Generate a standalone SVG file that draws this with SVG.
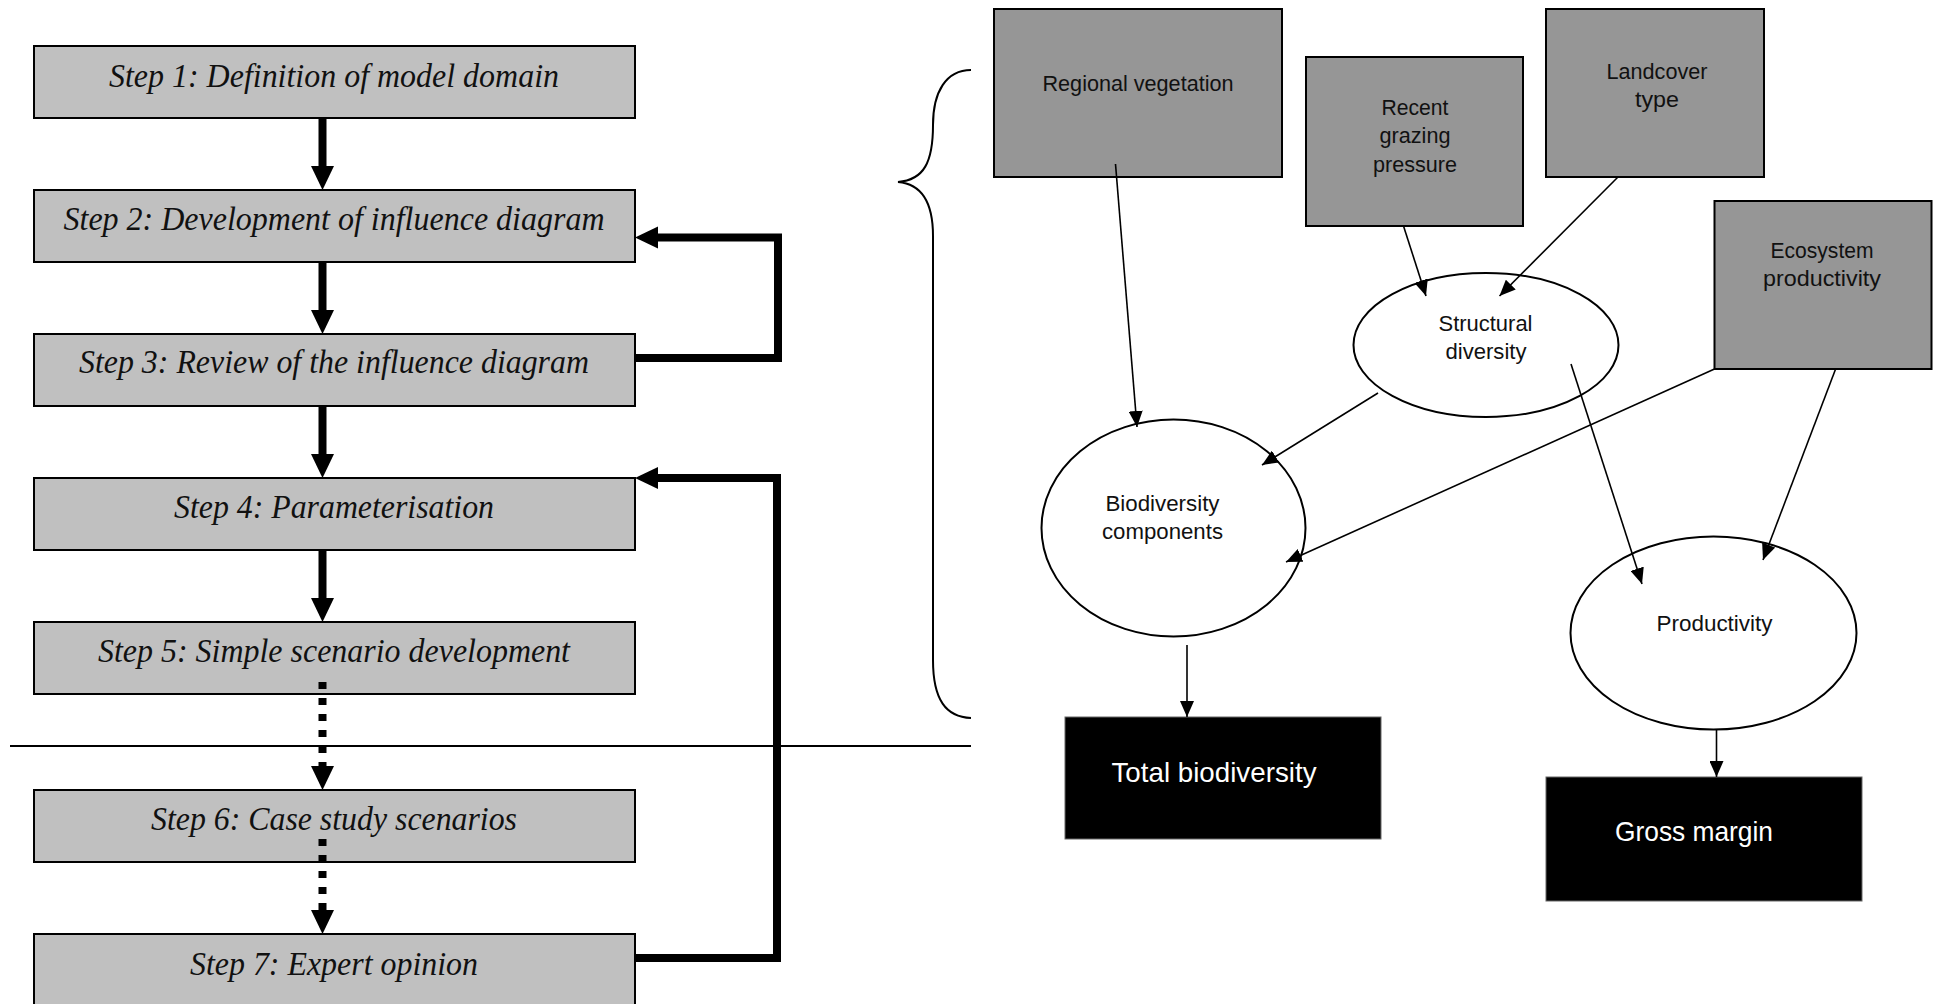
<svg xmlns="http://www.w3.org/2000/svg" width="1934" height="1004" viewBox="0 0 1934 1004">
<defs>
<style>
.step{fill:#c0c0c0;stroke:#000;stroke-width:2}
.st{font-family:"Liberation Serif",serif;font-style:italic;font-size:34px;fill:#111;text-anchor:middle}
.in{fill:#969696;stroke:#000;stroke-width:2}
.el{fill:#fff;stroke:#000;stroke-width:2}
.out{fill:#000;stroke:#666;stroke-width:1}
.lb{font-family:"Liberation Sans",Arial,sans-serif;font-size:21.5px;fill:#111;text-anchor:middle}
.ob{font-family:"Liberation Sans",Arial,sans-serif;font-size:28px;fill:#fff;text-anchor:middle}
.thick{stroke:#000;stroke-width:8;fill:none}
.dot{stroke:#000;stroke-width:8;fill:none;stroke-dasharray:7 9}
.thin{stroke:#000;stroke-width:1.6;fill:none;marker-end:url(#ah)}
</style>
<marker id="ah" markerUnits="userSpaceOnUse" markerWidth="16" markerHeight="14" refX="16" refY="7" orient="auto">
<path d="M0,0 L16,7 L0,14 z" fill="#000"/>
</marker>
</defs>
<rect width="1934" height="1004" fill="#fff"/>

<g id="step1"><rect class="step" x="34" y="46" width="601" height="72"/><text class="st" x="334" y="87" textLength="450" lengthAdjust="spacingAndGlyphs">Step 1: Definition of model domain</text></g>
<g id="step2"><rect class="step" x="34" y="190" width="601" height="72"/><text class="st" x="334" y="230" textLength="541" lengthAdjust="spacingAndGlyphs">Step 2: Development of influence diagram</text></g>
<g id="step3"><rect class="step" x="34" y="334" width="601" height="72"/><text class="st" x="334" y="373" textLength="510" lengthAdjust="spacingAndGlyphs">Step 3: Review of the influence diagram</text></g>
<g id="step4"><rect class="step" x="34" y="478" width="601" height="72"/><text class="st" x="334" y="518" textLength="320" lengthAdjust="spacingAndGlyphs">Step 4: Parameterisation</text></g>
<g id="step5"><rect class="step" x="34" y="622" width="601" height="72"/><text class="st" x="334" y="662" textLength="472" lengthAdjust="spacingAndGlyphs">Step 5: Simple scenario development</text></g>
<g id="step6"><rect class="step" x="34" y="790" width="601" height="72"/><text class="st" x="334" y="830" textLength="366" lengthAdjust="spacingAndGlyphs">Step 6: Case study scenarios</text></g>
<g id="step7"><rect class="step" x="34" y="934" width="601" height="90"/><text class="st" x="334" y="975" textLength="288" lengthAdjust="spacingAndGlyphs">Step 7: Expert opinion</text></g>

<g id="divider"><line x1="10" y1="746" x2="971" y2="746" stroke="#000" stroke-width="2"/></g>
<g id="brace"><path d="M971 70 C946 70 933 92 933 125 C933 162 924 180 898 182 C922 184 933 202 933 236 L933 660 C933 700 946 717 971 718" fill="none" stroke="#000" stroke-width="2"/></g>

<g id="regional"><rect class="in" x="994" y="9" width="288" height="168"/><text class="lb" x="1138" y="91" textLength="191" lengthAdjust="spacingAndGlyphs">Regional vegetation</text></g>
<g id="grazing"><rect class="in" x="1306" y="57" width="217" height="169"/><text class="lb" x="1415" y="115" textLength="67" lengthAdjust="spacingAndGlyphs">Recent</text><text class="lb" x="1415" y="143" textLength="71" lengthAdjust="spacingAndGlyphs">grazing</text><text class="lb" x="1415" y="172" textLength="84" lengthAdjust="spacingAndGlyphs">pressure</text></g>
<g id="landcover"><rect class="in" x="1546" y="9" width="218" height="168"/><text class="lb" x="1657" y="79" textLength="101" lengthAdjust="spacingAndGlyphs">Landcover</text><text class="lb" x="1657" y="107" textLength="44" lengthAdjust="spacingAndGlyphs">type</text></g>
<g id="ecosystem"><rect class="in" x="1714.5" y="201" width="217" height="168"/><text class="lb" x="1822" y="258" textLength="103" lengthAdjust="spacingAndGlyphs">Ecosystem</text><text class="lb" x="1822" y="286" textLength="118" lengthAdjust="spacingAndGlyphs">productivity</text></g>
<g id="structural"><ellipse class="el" cx="1486" cy="345" rx="132.5" ry="72"/><text class="lb" x="1485.5" y="331" textLength="94" lengthAdjust="spacingAndGlyphs">Structural</text><text class="lb" x="1486" y="359" textLength="81" lengthAdjust="spacingAndGlyphs">diversity</text></g>
<g id="biodiversity"><ellipse class="el" cx="1173.5" cy="528" rx="132" ry="108.5"/><text class="lb" x="1162.5" y="511" textLength="114" lengthAdjust="spacingAndGlyphs">Biodiversity</text><text class="lb" x="1162.5" y="539" textLength="121" lengthAdjust="spacingAndGlyphs">components</text></g>
<g id="productivity"><ellipse class="el" cx="1713.5" cy="633" rx="143" ry="96.5"/><text class="lb" x="1714.5" y="631" textLength="116" lengthAdjust="spacingAndGlyphs">Productivity</text></g>
<g id="total"><rect class="out" x="1065" y="717" width="316" height="122"/><text class="ob" x="1214" y="782" textLength="205" lengthAdjust="spacingAndGlyphs">Total biodiversity</text></g>
<g id="gross"><rect class="out" x="1546" y="777" width="316" height="124"/><text class="ob" x="1694" y="841" textLength="158" lengthAdjust="spacingAndGlyphs">Gross margin</text></g>

<g id="connectors">
<line class="thick" x1="322.5" y1="118" x2="322.5" y2="167"/><polygon points="311,166 334,166 322.5,190"/>
<line class="thick" x1="322.5" y1="262" x2="322.5" y2="311"/><polygon points="311,310 334,310 322.5,334"/>
<line class="thick" x1="322.5" y1="406" x2="322.5" y2="455"/><polygon points="311,454 334,454 322.5,478"/>
<line class="thick" x1="322.5" y1="550" x2="322.5" y2="599"/><polygon points="311,598 334,598 322.5,622"/>
<line class="dot" x1="322.5" y1="682" x2="322.5" y2="766"/><polygon points="311,766 334,766 322.5,790"/>
<line class="dot" x1="322.5" y1="839" x2="322.5" y2="911"/><polygon points="311,910 334,910 322.5,934"/>
<path class="thick" d="M635 358 H778 V237.5 H657" stroke-linejoin="miter"/><polygon points="635,237.5 658,226.5 658,248.5"/>
<path class="thick" d="M635 958 H777 V478 H657" stroke-linejoin="miter"/><polygon points="635,478 658,467 658,489"/>
<line class="thin" x1="1115.5" y1="164" x2="1137" y2="427"/>
<line class="thin" x1="1403.5" y1="226" x2="1426" y2="296"/>
<line class="thin" x1="1618" y1="177" x2="1499.5" y2="296"/>
<line class="thin" x1="1378" y1="393" x2="1262" y2="465"/>
<line class="thin" x1="1714.5" y1="369" x2="1286" y2="562"/>
<line class="thin" x1="1571" y1="364" x2="1642" y2="584"/>
<line class="thin" x1="1835.6" y1="369" x2="1763" y2="560"/>
<line class="thin" x1="1187" y1="645" x2="1187" y2="717"/>
<line class="thin" x1="1716.5" y1="730" x2="1716.5" y2="777"/>
</g>
</svg>
